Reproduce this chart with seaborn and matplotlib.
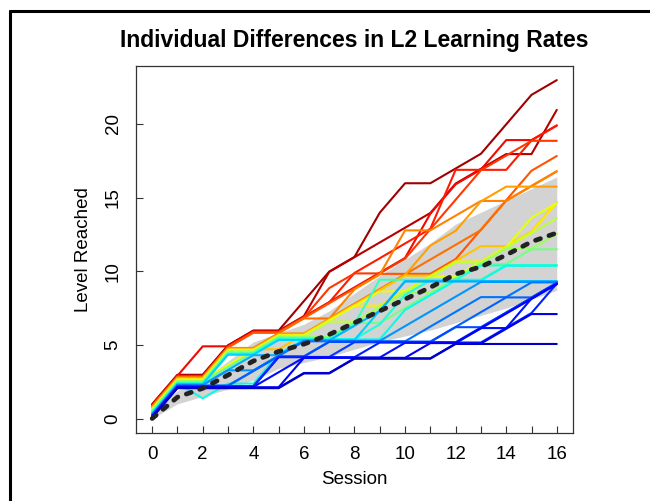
import numpy as np
import pandas as pd
import matplotlib
matplotlib.use("Agg")
import matplotlib.pyplot as plt
from matplotlib.lines import Line2D
import seaborn as sns

# ---------------- data ----------------
sessions = list(range(17))

# integer level reached per learner (ordered from fastest to slowest learner)
levels = [
    [0, 2, 2, 4, 5, 5, 7, 9, 10, 13, 15, 15, 16, 17, 19, 21, 22],
    [0, 2, 2, 4, 5, 5, 6, 9, 10, 11, 12, 13, 15, 16, 17, 17, 20],
    [0, 2, 4, 4, 5, 5, 6, 7, 8, 9, 10, 13, 15, 16, 18, 18, 19],
    [0, 2, 2, 4, 5, 5, 6, 7, 9, 10, 11, 12, 16, 16, 16, 18, 19],
    [0, 2, 2, 4, 5, 5, 6, 8, 9, 9, 10, 12, 14, 16, 17, 18, 18],
    [0, 2, 2, 4, 5, 5, 6, 7, 8, 9, 9, 9, 10, 12, 14, 16, 17],
    [0, 2, 2, 4, 4, 5, 6, 6, 7, 8, 9, 10, 11, 12, 14, 15, 16],
    [0, 2, 2, 4, 4, 5, 5, 6, 8, 9, 12, 12, 13, 14, 14, 15, 16],
    [0, 2, 2, 4, 4, 5, 5, 6, 7, 8, 9, 11, 12, 14, 15, 15, 15],
    [0, 2, 2, 4, 4, 4, 5, 6, 7, 8, 9, 9, 10, 11, 11, 12, 14],
    [0, 2, 2, 4, 4, 5, 5, 6, 7, 7, 8, 9, 10, 10, 11, 12, 14],
    [0, 2, 2, 3, 4, 5, 5, 6, 7, 8, 8, 9, 9, 10, 11, 13, 14],
    [0, 2, 2, 4, 4, 5, 5, 6, 6, 7, 8, 9, 10, 10, 11, 12, 13],
    [0, 2, 2, 4, 4, 5, 5, 5, 6, 7, 8, 8, 9, 10, 11, 11, 12],
    [0, 2, 2, 3, 4, 5, 5, 5, 6, 6, 7, 8, 9, 10, 10, 11, 11],
    [0, 2, 2, 4, 4, 5, 5, 5, 6, 9, 9, 9, 9, 9, 10, 10, 10],
    [0, 2, 2, 4, 4, 5, 5, 5, 5, 6, 8, 9, 9, 10, 10, 10, 10],
    [0, 2, 1, 2, 2, 4, 5, 5, 5, 5, 7, 8, 9, 9, 10, 10, 10],
    [0, 2, 2, 4, 4, 5, 5, 5, 5, 7, 9, 9, 9, 9, 9, 9, 9],
    [0, 2, 2, 3, 4, 4, 5, 5, 6, 7, 9, 9, 9, 9, 9, 9, 9],
    [0, 2, 2, 3, 3, 4, 5, 5, 5, 5, 6, 7, 8, 9, 9, 9, 9],
    [0, 2, 2, 2, 3, 4, 5, 5, 5, 5, 5, 6, 7, 8, 8, 9, 9],
    [0, 2, 2, 2, 3, 4, 4, 5, 5, 5, 5, 5, 6, 7, 8, 8, 9],
    [0, 2, 2, 2, 2, 4, 4, 5, 5, 5, 5, 5, 6, 6, 7, 8, 9],
    [0, 2, 2, 2, 2, 4, 4, 4, 5, 5, 5, 5, 5, 6, 7, 8, 9],
    [0, 2, 2, 2, 2, 4, 4, 4, 4, 5, 5, 5, 5, 5, 6, 7, 9],
    [0, 2, 2, 2, 2, 3, 4, 4, 4, 4, 5, 5, 5, 6, 6, 8, 9],
    [0, 2, 2, 2, 2, 2, 4, 4, 4, 4, 4, 5, 5, 6, 7, 8, 9],
    [0, 2, 2, 2, 2, 2, 3, 3, 4, 4, 4, 4, 5, 5, 6, 7, 7],
    [0, 2, 2, 2, 2, 2, 3, 3, 4, 4, 4, 4, 5, 5, 5, 5, 5],
]

# per-learner rate score (0..1): drives colour and the small vertical jitter
rate_score = [0.97, 0.95, 0.90, 0.88, 0.85, 0.82, 0.79, 0.77, 0.74, 0.70,
              0.66, 0.63, 0.58, 0.54, 0.49, 0.42, 0.39, 0.37, 0.33, 0.30,
              0.27, 0.24, 0.22, 0.20, 0.18, 0.16, 0.14, 0.12, 0.09, 0.06]

mean_level = [0, 1.45, 2.05, 2.95, 3.9, 4.55, 5.05, 5.7, 6.5, 7.3, 8.1, 8.9,
              9.8, 10.3, 11.1, 12.0, 12.6]
band_low = [0, 1.0, 1.5, 2.0, 2.6, 3.4, 3.8, 4.2, 4.7, 5.2, 5.6, 6.0, 6.5,
            7.0, 7.5, 8.1, 8.7]
band_high = [0.3, 1.9, 2.6, 3.9, 5.2, 5.8, 6.4, 7.3, 8.5, 9.7, 10.8, 11.9,
             13.2, 14.0, 14.8, 15.6, 16.4]

title = "Individual Differences in L2 Learning Rates"
xlabel = "Session"
ylabel = "Level Reached"
xtick_labels = ["0", "2", "4", "6", "8", "10", "12", "14", "16"]
ytick_labels = ["0", "5", "10", "15", "20"]

# ---------------- build table ----------------
rows = []
for i, (lv, r) in enumerate(zip(levels, rate_score)):
    for s, v in zip(sessions, lv):
        rows.append({"learner": i, "session": s, "shown": v + r})
df = pd.DataFrame(rows)
jet = matplotlib.colormaps["jet"]
palette = {i: jet(r) for i, r in enumerate(rate_score)}

# ---------------- plot ----------------
sns.set_style("white")
plt.rcParams["font.family"] = ["Liberation Sans", "DejaVu Sans"]
plt.rcParams["text.color"] = "black"
plt.rcParams["axes.labelcolor"] = "black"
plt.rcParams["xtick.color"] = "black"
plt.rcParams["ytick.color"] = "black"

fig = plt.figure(figsize=(6.5, 5.01), dpi=100)
ax = fig.add_axes([0.2092, 0.1367, 0.6723, 0.7316])

ax.fill_between(sessions, band_low, band_high, color="#d3d3d3", lw=0, zorder=1)

sns.lineplot(data=df, x="session", y="shown", hue="learner", palette=palette,
             legend=False, lw=1.5, ax=ax, zorder=2, estimator=None, sort=False)

sns.lineplot(x=sessions, y=mean_level, color="#222222", lw=3.4, ax=ax, zorder=5)
mline = ax.lines[-1]
mline.set_dashes([1.1, 1.9])
mline.set_dash_capstyle("round")

ax.set_xlim(-0.64, 16.64)
ax.set_ylim(-0.95, 23.93)

ax.set_xticks(range(0, 17, 2))
ax.set_xticklabels(xtick_labels)
ax.set_xticks(range(1, 17, 2), minor=True)
ax.set_yticks([0, 5, 10, 15, 20])
ax.set_yticklabels(ytick_labels, rotation=90, va="center")

ax.tick_params(axis="both", which="both", direction="in", length=5.2,
               width=0.8, color="#333333", labelsize=13.5,
               labelcolor="black")
ax.tick_params(axis="x", which="both", pad=9.6, bottom=True)
ax.tick_params(axis="y", which="both", pad=10.3, left=True)

for sp in ax.spines.values():
    sp.set_visible(True)
    sp.set_color("#333333")
    sp.set_linewidth(0.9)

ax.set_xlabel(xlabel, fontsize=13.5, color="black")
ax.set_ylabel(ylabel, fontsize=13.5, color="black")
ax.xaxis.set_label_coords(0.5, -0.106)
ax.yaxis.set_label_coords(-0.101, 0.5)
ax.set_title(title, fontsize=16.5, fontweight="bold", pad=13.7, color="black")

# figure frame (left and top edges visible)
fig.add_artist(Line2D([10 / 650, 10 / 650], [0, 1 - 11 / 501],
                      transform=fig.transFigure, color="black", lw=2.2))
fig.add_artist(Line2D([10 / 650, 1], [1 - 11 / 501, 1 - 11 / 501],
                      transform=fig.transFigure, color="black", lw=2.2))

fig.savefig("out.png", dpi=100)
